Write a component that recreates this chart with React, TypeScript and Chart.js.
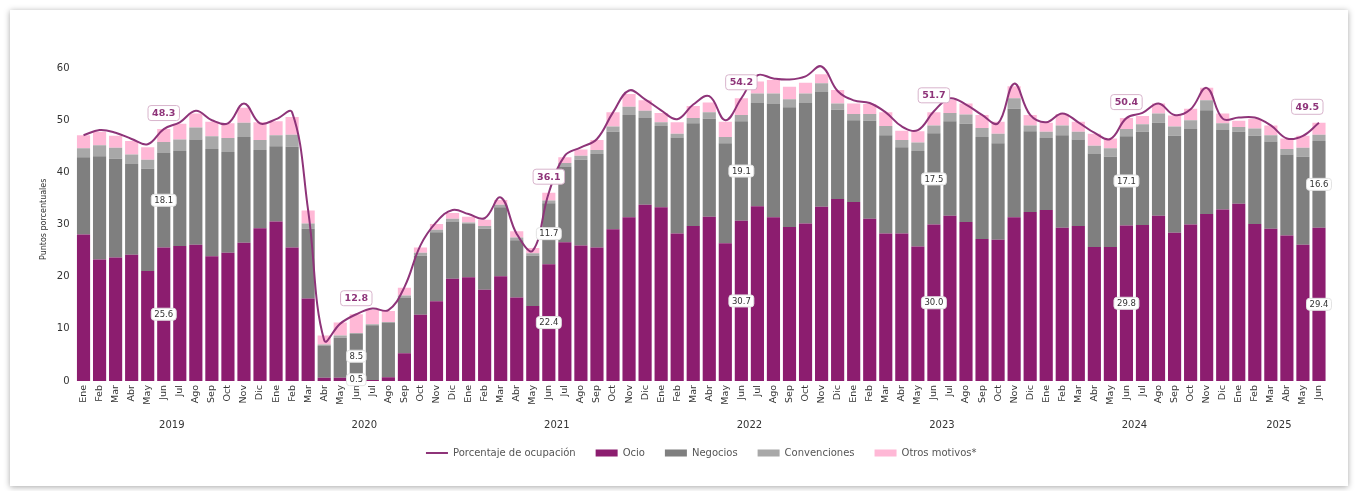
import React, { useEffect, useRef } from 'react';
import { Chart, registerables } from 'chart.js';

Chart.register(...registerables);

const months = ['Ene', 'Feb', 'Mar', 'Abr', 'May', 'Jun', 'Jul', 'Ago', 'Sep', 'Oct', 'Nov', 'Dic'];
const years = ['2019', '2020', '2021', '2022', '2023', '2024', '2025'];
const monthsPerYear = [12, 12, 12, 12, 12, 12, 6];

const categories: string[] = [];
years.forEach((_, yi) => {
  for (let m = 0; m < monthsPerYear[yi]; m++) categories.push(months[m]);
});

const ocio = [
  28.1, 23.3, 23.7, 24.2, 21.1, 25.6, 25.9, 26.1, 23.9, 24.6, 26.5, 29.3,
  30.6, 25.6, 15.8, 0.6, 0.6, 0.5, 0.2, 0.7, 5.3, 12.7, 15.3, 19.6,
  19.9, 17.5, 20.1, 16.0, 14.4, 22.4, 26.6, 26.0, 25.6, 29.1, 31.4, 33.8,
  33.3, 28.3, 29.7, 31.5, 26.4, 30.7, 33.5, 31.4, 29.5, 30.2, 33.4, 34.9,
  34.3, 31.1, 28.3, 28.3, 25.8, 30.0, 31.7, 30.5, 27.2, 27.1, 31.4, 32.4,
  32.8, 29.4, 29.7, 25.7, 25.7, 29.8, 29.9, 31.7, 28.4, 30.0, 32.0, 32.9,
  34.0, 30.1, 29.2, 27.9, 26.1, 29.4,
];

const negocios = [
  14.8, 19.8, 18.9, 17.4, 19.6, 18.1, 18.2, 20.2, 20.6, 19.3, 20.3, 15.0,
  14.4, 19.3, 13.4, 6.1, 7.7, 8.5, 10.5, 10.4, 10.6, 11.3, 13.2, 11.0,
  10.2, 11.7, 13.2, 11.0, 9.6, 11.7, 14.5, 16.4, 17.9, 18.7, 19.6, 16.7,
  15.6, 18.4, 19.7, 18.8, 19.2, 19.1, 19.8, 21.8, 23.0, 23.1, 22.0, 17.1,
  15.7, 18.8, 18.8, 16.5, 18.3, 17.5, 18.1, 18.8, 19.6, 18.5, 20.8, 15.5,
  13.8, 17.7, 16.6, 17.9, 17.3, 17.1, 17.9, 17.8, 18.6, 18.3, 19.9, 15.2,
  13.8, 16.9, 16.7, 15.5, 16.9, 16.6,
];

const convenciones = [
  1.7, 2.1, 2.1, 1.8, 1.7, 2.1, 2.2, 2.3, 2.4, 2.7, 2.7, 1.9,
  2.1, 2.3, 1.0, 0.3, 0.4, 0.2, 0.2, 0.2, 0.5, 0.6, 0.5, 0.5,
  0.3, 0.5, 0.5, 0.5, 0.5, 0.5, 0.7, 0.8, 0.8, 1.0, 1.6, 1.3,
  0.7, 0.7, 1.0, 1.2, 1.2, 1.2, 1.8, 1.9, 1.5, 1.8, 1.7, 1.2,
  1.2, 1.3, 1.8, 1.4, 1.6, 1.5, 1.6, 1.8, 1.7, 1.8, 2.0, 1.1,
  1.2, 1.9, 1.5, 1.5, 1.6, 1.4, 1.4, 1.8, 1.8, 1.7, 1.9, 1.3,
  0.9, 1.4, 1.2, 1.1, 1.7, 1.2,
];

const otros = [
  2.5, 2.6, 2.3, 2.6, 2.4, 2.5, 3.0, 2.7, 2.8, 2.8, 2.9, 3.4,
  2.7, 3.4, 2.5, 1.7, 2.5, 3.6, 2.7, 2.1, 1.5, 1.0, 1.1, 1.1,
  1.1, 1.2, 0.9, 1.2, 1.0, 1.5, 1.1, 1.2, 1.9, 2.7, 2.4, 2.0,
  1.8, 2.2, 2.3, 1.9, 2.9, 3.2, 2.3, 2.6, 2.4, 2.1, 1.7, 2.6,
  2.0, 1.9, 2.6, 1.8, 2.2, 2.5, 2.5, 2.1, 2.5, 2.3, 2.3, 2.0,
  1.7, 2.2, 1.9, 2.3, 1.9, 2.1, 1.6, 1.9, 2.1, 2.2, 2.4, 1.9,
  1.2, 1.9, 1.9, 2.0, 2.3, 2.3,
];

const ocupacion = [
  47.1, 48.1, 47.6, 46.4, 45.4, 48.3, 49.6, 51.8, 50.0, 49.4, 53.2, 49.4,
  50.2, 51.5, 32.7, 7.8, 11.0, 12.8, 13.9, 13.6, 18.0, 26.0, 30.5, 32.8,
  32.0, 31.2, 35.2, 28.2, 25.0, 36.1, 43.2, 44.8, 46.4, 51.5, 55.7, 54.0,
  51.9, 50.2, 53.0, 54.6, 50.0, 54.2, 58.6, 58.0, 57.8, 58.4, 60.3, 55.6,
  53.8, 53.3, 51.5, 48.8, 48.1, 51.7, 54.2, 53.0, 51.0, 49.4, 57.0, 51.0,
  49.6, 51.3, 49.6, 47.6, 46.4, 50.4, 51.4, 53.2, 51.0, 52.1, 56.2, 50.3,
  50.5, 50.5, 49.0, 46.5, 47.0, 49.5,
];

const yTicks = [0, 10, 20, 30, 40, 50, 60];
const labelMonth = 'Jun';

const COL_LINE = '#8E3479';
const COL_OCIO = '#8C1D6F';
const COL_NEG = '#7F7F7F';
const COL_CONV = '#A8A8A8';
const COL_OTROS = '#FFB8D6';
const FONT = 'DejaVu Sans';

function drawBox(
  ctx: CanvasRenderingContext2D,
  text: string,
  cx: number,
  cy: number,
  o: { font: string; padX: number; h: number; fill: string; stroke: string; color: string; maxRight?: number }
) {
  ctx.save();
  ctx.font = o.font;
  const tw = ctx.measureText(text).width;
  const w = tw + o.padX * 2;
  let x0 = cx - w / 2;
  if (o.maxRight !== undefined && x0 + w > o.maxRight) x0 = o.maxRight - w;
  ctx.beginPath();
  (ctx as any).roundRect(x0, cy - o.h / 2, w, o.h, 3);
  ctx.fillStyle = o.fill;
  ctx.fill();
  ctx.lineWidth = 1;
  ctx.strokeStyle = o.stroke;
  ctx.stroke();
  ctx.fillStyle = o.color;
  ctx.textAlign = 'center';
  ctx.textBaseline = 'middle';
  ctx.fillText(text, x0 + w / 2, cy + 0.5);
  ctx.restore();
}

const annotPlugin = {
  id: 'annot',
  afterDatasetsDraw(chart: any) {
    const ctx = chart.ctx as CanvasRenderingContext2D;
    const xs = chart.scales.x;
    const ys = chart.scales.y;
    const area = chart.chartArea;
    categories.forEach((c, i) => {
      if (c !== labelMonth) return;
      const px = xs.getPixelForValue(i);
      const segOpts = { font: `8.5px ${FONT}`, padX: 3, h: 12, fill: '#ffffff', stroke: '#e2e2e2', color: '#333333' };
      drawBox(ctx, negocios[i].toFixed(1), px, ys.getPixelForValue(ocio[i] + negocios[i] / 2), segOpts);
      drawBox(ctx, ocio[i].toFixed(1), px, ys.getPixelForValue(ocio[i] / 2), segOpts);
      const py = ys.getPixelForValue(ocupacion[i]);
      drawBox(ctx, ocupacion[i].toFixed(1), px, py - 16, {
        font: `bold 9.5px ${FONT}`,
        padX: 4,
        h: 15,
        fill: '#ffffff',
        stroke: '#d8b4cc',
        color: COL_LINE,
        maxRight: area.right - 4,
      });
    });
  },
  afterDraw(chart: any) {
    const ctx = chart.ctx as CanvasRenderingContext2D;
    const xs = chart.scales.x;
    let start = 0;
    ctx.save();
    ctx.font = `10px ${FONT}`;
    ctx.fillStyle = '#333333';
    ctx.textAlign = 'center';
    ctx.textBaseline = 'middle';
    years.forEach((yr, yi) => {
      const end = start + monthsPerYear[yi] - 1;
      const cx = (xs.getPixelForValue(start) + xs.getPixelForValue(end)) / 2;
      ctx.fillText(yr, cx, xs.top + 44);
      start = end + 1;
    });
    ctx.restore();
  },
};

export default function App() {
  const ref = useRef<HTMLCanvasElement | null>(null);

  useEffect(() => {
    if (!ref.current) return;
    Chart.defaults.font.family = FONT;
    const chart = new Chart(ref.current, {
      data: {
        labels: categories,
        datasets: [
          {
            type: 'line',
            label: 'Porcentaje de ocupación',
            data: ocupacion,
            borderColor: COL_LINE,
            backgroundColor: COL_LINE,
            borderWidth: 2,
            pointRadius: 0,
            tension: 0.4,
            stack: 'ocupacion',
            order: 0,
          } as any,
          { type: 'bar', label: 'Ocio', data: ocio, backgroundColor: COL_OCIO, stack: 'motivos', order: 1 },
          { type: 'bar', label: 'Negocios', data: negocios, backgroundColor: COL_NEG, stack: 'motivos', order: 1 },
          { type: 'bar', label: 'Convenciones', data: convenciones, backgroundColor: COL_CONV, stack: 'motivos', order: 1 },
          { type: 'bar', label: 'Otros motivos*', data: otros, backgroundColor: COL_OTROS, stack: 'motivos', order: 1 },
        ],
      },
      options: {
        responsive: false,
        animation: false,
        layout: { padding: { left: 35, right: 33, top: 57.6, bottom: 23 } },
        datasets: { bar: { barPercentage: 0.82, categoryPercentage: 1 } },
        scales: {
          x: {
            stacked: true,
            grid: { display: false, drawTicks: false },
            border: { display: false },
            ticks: {
              autoSkip: false,
              maxRotation: 90,
              minRotation: 90,
              padding: 4,
              color: '#333333',
              font: { size: 9.5, family: FONT },
            },
            afterFit: (s: any) => {
              s.height = 47;
            },
          },
          y: {
            stacked: true,
            min: 0,
            max: 62,
            grid: { display: false, drawTicks: false },
            border: { display: false },
            afterBuildTicks: (s: any) => {
              s.ticks = yTicks.map((v) => ({ value: v }));
            },
            ticks: { padding: 6, color: '#333333', font: { size: 10, family: FONT } },
            title: { display: true, text: 'Puntos porcentuales', color: '#333333', font: { size: 8, family: FONT } },
            afterFit: (s: any) => {
              s.width = 40.5;
            },
          },
        },
        plugins: {
          tooltip: { enabled: false },
          legend: {
            position: 'bottom',
            fullSize: false,
            labels: {
              usePointStyle: true,
              pointStyleWidth: 22,
              boxHeight: 7,
              padding: 20,
              color: '#555555',
              font: { size: 10, family: FONT },
              generateLabels: (ch: any) => {
                const items = (Chart.defaults.plugins.legend.labels as any).generateLabels(ch);
                return items.map((it: any) => {
                  const ds: any = ch.data.datasets[it.datasetIndex];
                  if (ds.type === 'line') {
                    return { ...it, pointStyle: 'line', lineWidth: 2, strokeStyle: COL_LINE, fillStyle: COL_LINE };
                  }
                  return { ...it, pointStyle: 'rect', lineWidth: 0, strokeStyle: ds.backgroundColor, fillStyle: ds.backgroundColor };
                });
              },
            },
          },
        },
      } as any,
      plugins: [annotPlugin],
    });
    return () => chart.destroy();
  }, []);

  return (
    <div style={{ position: 'absolute', left: 0, top: 0, width: 1360, height: 491, background: '#ffffff' }}>
      <div
        style={{
          position: 'absolute',
          left: 10,
          top: 10,
          width: 1338,
          height: 476,
          background: '#ffffff',
          boxShadow: '0 1px 6px rgba(0,0,0,0.35)',
        }}
      />
      <canvas ref={ref} width={1360} height={491} style={{ position: 'absolute', left: 0, top: 0, width: 1360, height: 491 }} />
    </div>
  );
}
